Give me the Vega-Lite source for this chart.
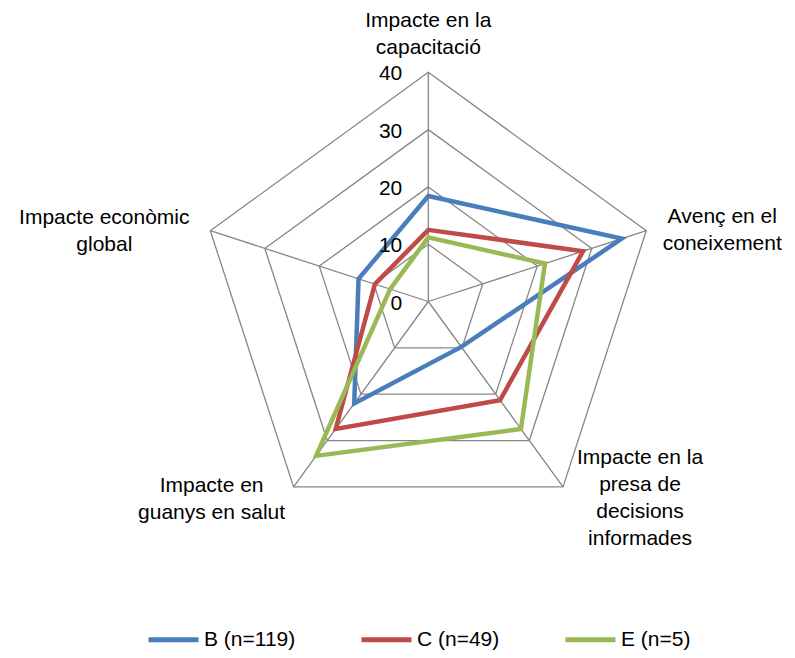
{
  "$schema": "https://vega.github.io/schema/vega-lite/v6.json",
  "width": 795,
  "height": 658,
  "autosize": "none",
  "padding": 0,
  "background": "white",
  "config": {"view": {"stroke": null}, "font": "Liberation Sans", "text": {"font": "Liberation Sans", "color": "black"}},
  "datasets": {
    "axes": [
      {"i": 0, "r": 40, "label": "Impacte en la\ncapacitació"},
      {"i": 1, "r": 40, "label": "Avenç en el\nconeixement"},
      {"i": 2, "r": 40, "label": "Impacte en la\npresa de\ndecisions\ninformades"},
      {"i": 3, "r": 40, "label": "Impacte en\nguanys en salut"},
      {"i": 4, "r": 40, "label": "Impacte econòmic\nglobal"}
    ],
    "grid": [
      {"r": 10, "i": 0}, {"r": 10, "i": 1}, {"r": 10, "i": 2}, {"r": 10, "i": 3}, {"r": 10, "i": 4},
      {"r": 20, "i": 0}, {"r": 20, "i": 1}, {"r": 20, "i": 2}, {"r": 20, "i": 3}, {"r": 20, "i": 4},
      {"r": 30, "i": 0}, {"r": 30, "i": 1}, {"r": 30, "i": 2}, {"r": 30, "i": 3}, {"r": 30, "i": 4},
      {"r": 40, "i": 0}, {"r": 40, "i": 1}, {"r": 40, "i": 2}, {"r": 40, "i": 3}, {"r": 40, "i": 4}
    ],
    "ticks": [
      {"r": 0, "i": 0}, {"r": 10, "i": 0}, {"r": 20, "i": 0}, {"r": 30, "i": 0}, {"r": 40, "i": 0}
    ],
    "scores": [
      {"series": "B (n=119)", "axis": "Impacte en la capacitació", "i": 0, "r": 18.4},
      {"series": "B (n=119)", "axis": "Avenç en el coneixement", "i": 1, "r": 35.5},
      {"series": "B (n=119)", "axis": "Impacte en la presa de decisions informades", "i": 2, "r": 9.8},
      {"series": "B (n=119)", "axis": "Impacte en guanys en salut", "i": 3, "r": 22.0},
      {"series": "B (n=119)", "axis": "Impacte econòmic global", "i": 4, "r": 12.8},
      {"series": "C (n=49)", "axis": "Impacte en la capacitació", "i": 0, "r": 12.5},
      {"series": "C (n=49)", "axis": "Avenç en el coneixement", "i": 1, "r": 28.4},
      {"series": "C (n=49)", "axis": "Impacte en la presa de decisions informades", "i": 2, "r": 21.3},
      {"series": "C (n=49)", "axis": "Impacte en guanys en salut", "i": 3, "r": 27.5},
      {"series": "C (n=49)", "axis": "Impacte econòmic global", "i": 4, "r": 9.8},
      {"series": "E (n=5)", "axis": "Impacte en la capacitació", "i": 0, "r": 11.2},
      {"series": "E (n=5)", "axis": "Avenç en el coneixement", "i": 1, "r": 21.4},
      {"series": "E (n=5)", "axis": "Impacte en la presa de decisions informades", "i": 2, "r": 27.5},
      {"series": "E (n=5)", "axis": "Impacte en guanys en salut", "i": 3, "r": 33.3},
      {"series": "E (n=5)", "axis": "Impacte econòmic global", "i": 4, "r": 7.0}
    ]
  },
  "encoding": {
    "x": {"field": "x", "type": "quantitative", "scale": {"domain": [-74.747, 63.997], "nice": false, "zero": false}, "axis": null},
    "y": {"field": "y", "type": "quantitative", "scale": {"domain": [-62.216, 52.618], "nice": false, "zero": false}, "axis": null}
  },
  "layer": [
    {
      "data": {"name": "grid"},
      "transform": [
        {"calculate": "PI/2 - datum.i*2*PI/5", "as": "a"},
        {"calculate": "datum.r*cos(datum.a)", "as": "x"},
        {"calculate": "datum.r*sin(datum.a)", "as": "y"}
      ],
      "mark": {"type": "line", "interpolate": "linear-closed", "stroke": "#868686", "strokeWidth": 1.3},
      "encoding": {"detail": {"field": "r", "type": "nominal"}, "order": {"field": "i", "type": "quantitative"}}
    },
    {
      "data": {"name": "axes"},
      "transform": [
        {"calculate": "PI/2 - datum.i*2*PI/5", "as": "a"},
        {"calculate": "datum.r*cos(datum.a)", "as": "x"},
        {"calculate": "datum.r*sin(datum.a)", "as": "y"}
      ],
      "mark": {"type": "rule", "stroke": "#868686", "strokeWidth": 1.3},
      "encoding": {"x2": {"datum": 0}, "y2": {"datum": 0}}
    },
    {
      "data": {"name": "scores"},
      "transform": [
        {"calculate": "PI/2 - datum.i*2*PI/5", "as": "a"},
        {"calculate": "datum.r*cos(datum.a)", "as": "x"},
        {"calculate": "datum.r*sin(datum.a)", "as": "y"}
      ],
      "mark": {"type": "line", "interpolate": "linear-closed", "strokeWidth": 4.5, "strokeJoin": "miter"},
      "encoding": {
        "stroke": {
          "field": "series", "type": "nominal",
          "scale": {"domain": ["B (n=119)", "C (n=49)", "E (n=5)"], "range": ["#4a7ebb", "#be4b48", "#98b954"]},
          "legend": {
            "orient": "none", "legendX": 146, "legendY": 612, "direction": "horizontal", "title": null,
            "symbolType": "stroke", "symbolSize": 2500, "symbolStrokeWidth": 5,
            "labelFontSize": 21, "labelFont": "Liberation Sans", "labelColor": "black",
            "columnPadding": 55, "labelOffset": 3, "padding": 0
          }
        },
        "order": {"field": "i", "type": "quantitative"}
      }
    },
    {
      "data": {"name": "ticks"},
      "transform": [
        {"calculate": "PI/2 - datum.i*2*PI/5", "as": "a"},
        {"calculate": "datum.r*cos(datum.a)", "as": "x"},
        {"calculate": "datum.r*sin(datum.a)", "as": "y"}
      ],
      "mark": {"type": "text", "align": "right", "baseline": "middle", "dx": -26, "dy": 2, "fontSize": 21},
      "encoding": {"text": {"field": "r", "type": "quantitative"}}
    },
    {
      "data": {"name": "axes"},
      "transform": [
        {"filter": "datum.i == 0"},
        {"calculate": "PI/2 - datum.i*2*PI/5", "as": "a"},
        {"calculate": "datum.r*cos(datum.a)", "as": "x"},
        {"calculate": "datum.r*sin(datum.a)", "as": "y"}
      ],
      "mark": {"type": "text", "align": "center", "baseline": "middle", "dx": 0, "dy": -51, "fontSize": 21, "lineBreak": "\n", "lineHeight": 27},
      "encoding": {"text": {"field": "label", "type": "nominal"}}
    },
    {
      "data": {"name": "axes"},
      "transform": [
        {"filter": "datum.i == 1"},
        {"calculate": "PI/2 - datum.i*2*PI/5", "as": "a"},
        {"calculate": "datum.r*cos(datum.a)", "as": "x"},
        {"calculate": "datum.r*sin(datum.a)", "as": "y"}
      ],
      "mark": {"type": "text", "align": "center", "baseline": "middle", "dx": 76, "dy": -14, "fontSize": 21, "lineBreak": "\n", "lineHeight": 27},
      "encoding": {"text": {"field": "label", "type": "nominal"}}
    },
    {
      "data": {"name": "axes"},
      "transform": [
        {"filter": "datum.i == 2"},
        {"calculate": "PI/2 - datum.i*2*PI/5", "as": "a"},
        {"calculate": "datum.r*cos(datum.a)", "as": "x"},
        {"calculate": "datum.r*sin(datum.a)", "as": "y"}
      ],
      "mark": {"type": "text", "align": "center", "baseline": "middle", "dx": 77, "dy": -29, "fontSize": 21, "lineBreak": "\n", "lineHeight": 27},
      "encoding": {"text": {"field": "label", "type": "nominal"}}
    },
    {
      "data": {"name": "axes"},
      "transform": [
        {"filter": "datum.i == 3"},
        {"calculate": "PI/2 - datum.i*2*PI/5", "as": "a"},
        {"calculate": "datum.r*cos(datum.a)", "as": "x"},
        {"calculate": "datum.r*sin(datum.a)", "as": "y"}
      ],
      "mark": {"type": "text", "align": "center", "baseline": "middle", "dx": -82, "dy": -1, "fontSize": 21, "lineBreak": "\n", "lineHeight": 27},
      "encoding": {"text": {"field": "label", "type": "nominal"}}
    },
    {
      "data": {"name": "axes"},
      "transform": [
        {"filter": "datum.i == 4"},
        {"calculate": "PI/2 - datum.i*2*PI/5", "as": "a"},
        {"calculate": "datum.r*cos(datum.a)", "as": "x"},
        {"calculate": "datum.r*sin(datum.a)", "as": "y"}
      ],
      "mark": {"type": "text", "align": "center", "baseline": "middle", "dx": -106, "dy": -13, "fontSize": 21, "lineBreak": "\n", "lineHeight": 27},
      "encoding": {"text": {"field": "label", "type": "nominal"}}
    }
  ]
}
